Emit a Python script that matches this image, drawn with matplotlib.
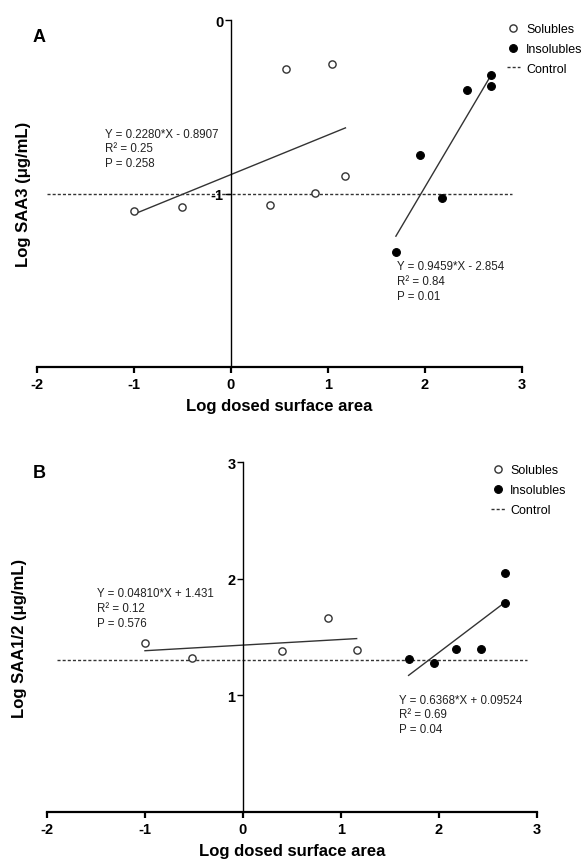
import matplotlib
matplotlib.use("Agg")
import matplotlib.pyplot as plt
import numpy as np

plt.rcParams["font.family"] = ["Liberation Sans", "DejaVu Sans"]
plt.rcParams["axes.unicode_minus"] = False

# panel A: Log SAA3
sol_a_x = [-1.0, -0.51, 0.40, 0.565, 0.87, 1.04, 1.18]
sol_a_y = [-1.10, -1.075, -1.065, -0.28, -0.995, -0.255, -0.90]
ins_a_x = [1.70, 1.95, 2.18, 2.43, 2.68, 2.68]
ins_a_y = [-1.34, -0.78, -1.025, -0.405, -0.38, -0.318]
fit_a_sol = (0.2280, -0.8907)
fit_a_ins = (0.9459, -2.854)
stats_a_sol = ["Y = 0.2280*X - 0.8907", "R\u00b2 = 0.25", "P = 0.258"]
stats_a_ins = ["Y = 0.9459*X - 2.854", "R\u00b2 = 0.84", "P = 0.01"]
control_a = -1.0

# panel B: Log SAA1/2
sol_b_x = [-1.0, -0.52, 0.40, 0.87, 1.16]
sol_b_y = [1.446, 1.32, 1.38, 1.66, 1.385]
ins_b_x = [1.69, 1.95, 2.17, 2.43, 2.67, 2.67]
ins_b_y = [1.31, 1.28, 1.40, 1.40, 1.79, 2.05]
fit_b_sol = (0.04810, 1.431)
fit_b_ins = (0.6368, 0.09524)
stats_b_sol = ["Y = 0.04810*X + 1.431", "R\u00b2 = 0.12", "P = 0.576"]
stats_b_ins = ["Y = 0.6368*X + 0.09524", "R\u00b2 = 0.69", "P = 0.04"]
control_b = 1.30

x_ticks = [-2, -1, 0, 1, 2, 3]


def draw_panel(ax, sx, sy, ix, iy, fit_s, fit_i, txt_s, txt_i, pos_s, pos_i,
               control, ylim, yticks, ylabel, label_x):
    ax.plot([-1.9, 2.9], [control, control], color="#333333", lw=1.0,
            linestyle=(0, (2.2, 1.5)), label="Control", zorder=1)

    xs = np.array([min(sx), max(sx)])
    ax.plot(xs, fit_s[0] * xs + fit_s[1], color="#333333", lw=1.0, zorder=2)
    xi = np.array([min(ix), max(ix)])
    ax.plot(xi, fit_i[0] * xi + fit_i[1], color="#333333", lw=1.0, zorder=2)

    ax.plot(sx, sy, "o", ms=5.2, mfc="white", mec="#333333", mew=1.0,
            label="Solubles", zorder=3)
    ax.plot(ix, iy, "o", ms=5.6, mfc="black", mec="black", mew=0.8,
            label="Insolubles", zorder=3)

    ax.text(pos_s[0], pos_s[1], "\n".join(txt_s), fontsize=8.3, color="#222222",
            va="top", ha="left", linespacing=1.3)
    ax.text(pos_i[0], pos_i[1], "\n".join(txt_i), fontsize=8.3, color="#222222",
            va="top", ha="left", linespacing=1.3)

    ax.set_xlim(-2, 3)
    ax.set_ylim(*ylim)
    ax.set_xticks(x_ticks)
    ax.set_xticklabels([str(t) for t in x_ticks])
    ax.set_yticks(yticks)
    ax.set_yticklabels([str(t) for t in yticks])

    ax.spines["top"].set_visible(False)
    ax.spines["right"].set_visible(False)
    ax.spines["left"].set_position(("data", 0))
    ax.spines["left"].set_linewidth(1.0)
    ax.spines["bottom"].set_linewidth(1.6)
    ax.tick_params(axis="x", direction="out", length=4, width=1.6, pad=3,
                   labelsize=10.5)
    ax.tick_params(axis="y", direction="out", length=4, width=1.0, pad=1.5,
                   labelsize=10.5)
    for lab in ax.get_xticklabels() + ax.get_yticklabels():
        lab.set_fontweight("bold")

    ax.set_xlabel("Log dosed surface area", fontsize=12, fontweight="bold",
                  labelpad=5)
    ax.set_ylabel(ylabel, fontsize=12, fontweight="bold")
    ax.yaxis.set_label_coords(label_x, 0.5)


fig = plt.figure(figsize=(5.85, 8.62), dpi=100)
ax_a = fig.add_axes([0.0632, 0.5731, 0.8291, 0.4025])
ax_b = fig.add_axes([0.0803, 0.0568, 0.8376, 0.4060])

draw_panel(ax_a, sol_a_x, sol_a_y, ins_a_x, ins_a_y, fit_a_sol, fit_a_ins,
           stats_a_sol, stats_a_ins, (-1.30, -0.62), (1.71, -1.385),
           control_a, (-2, 0), [0, -1], "Log SAA3 (\u03bcg/mL)", -0.012)
draw_panel(ax_b, sol_b_x, sol_b_y, ins_b_x, ins_b_y, fit_b_sol, fit_b_ins,
           stats_b_sol, stats_b_ins, (-1.49, 1.925), (1.59, 1.015),
           control_b, (0, 3), [1, 2, 3], "Log SAA1/2 (\u03bcg/mL)", -0.040)

for ax, anchor in [(ax_a, (0.866, 0.972)), (ax_b, (0.839, 0.460))]:
    h, l = ax.get_legend_handles_labels()
    order = [l.index("Solubles"), l.index("Insolubles"), l.index("Control")]
    ax.legend([h[i] for i in order], [l[i] for i in order], loc="upper left",
              bbox_to_anchor=anchor, bbox_transform=fig.transFigure,
              frameon=False, fontsize=9, handlelength=1.1, handletextpad=0.45,
              labelspacing=0.62, borderpad=0, borderaxespad=0)

fig.text(39 / 585, 1 - 37 / 862, "A", fontsize=13, fontweight="bold",
         ha="center", va="center")
fig.text(39 / 585, 1 - 474 / 862, "B", fontsize=13, fontweight="bold",
         ha="center", va="center")

fig.savefig("out.png", dpi=100)
